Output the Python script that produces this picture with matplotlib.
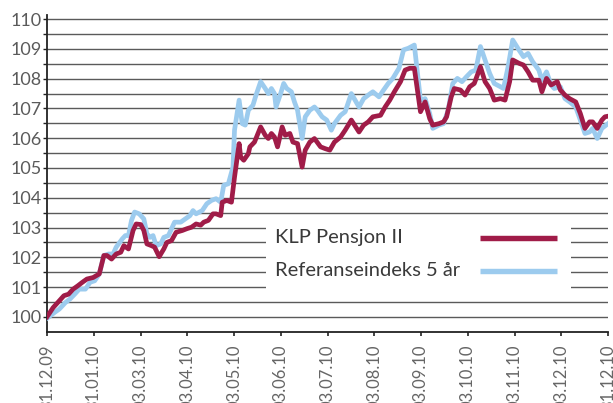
import numpy as np
import matplotlib
matplotlib.use('Agg')
import matplotlib.pyplot as plt

plt.rcParams['font.family'] = ['Lato', 'DejaVu Sans']

# dager etter 31.12.09 og indeksverdi
klp_dager = [0, 4, 7, 11, 14, 17, 20, 23, 26, 30, 34, 37, 39, 42, 45, 48, 50, 53, 56, 58,
             61, 63, 65, 68, 70, 73, 76, 78, 81, 84, 88, 91, 94, 97, 100, 102, 105, 108, 110, 113,
             114, 117, 120, 122, 125, 126, 128, 131, 132, 135, 139, 142, 144, 146, 148, 150, 153, 155, 158, 160,
             163, 166, 168, 171, 174, 178, 181, 184, 187, 191, 194, 198, 203, 206, 209, 212, 217, 220, 223, 226,
             230, 233, 236, 239, 243, 246, 249, 251, 255, 258, 260, 263, 265, 269, 272, 275, 278, 282, 285, 288,
             291, 295, 298, 301, 303, 307, 310, 313, 316, 320, 322, 325, 328, 332, 334, 337, 340, 344, 347, 350,
             353, 355, 358, 361, 363, 365]
klp_verdi = [100.0, 100.31, 100.48, 100.71, 100.76, 100.93, 101.04, 101.16, 101.27, 101.32, 101.44, 102.06, 102.06, 101.94, 102.11, 102.17, 102.39, 102.28, 102.9, 103.12,
             103.1, 102.9, 102.45, 102.39, 102.34, 102.02, 102.28, 102.5, 102.56, 102.84, 102.9, 102.96, 103.01, 103.12, 103.08, 103.18, 103.24, 103.46, 103.46, 103.4,
             103.85, 103.91, 103.85, 104.69, 105.82, 105.37, 105.26, 105.48, 105.71, 105.87, 106.38, 106.1, 105.99, 106.16, 106.04, 105.71, 106.38, 106.1, 106.16, 105.87,
             105.82, 105.03, 105.6, 105.87, 105.99, 105.71, 105.65, 105.6, 105.87, 106.04, 106.27, 106.61, 106.21, 106.44, 106.55, 106.72, 106.77, 107.05, 107.28, 107.56,
             107.9, 108.29, 108.35, 108.35, 106.89, 107.22, 106.66, 106.44, 106.49, 106.55, 106.72, 107.39, 107.67, 107.62, 107.45, 107.73, 107.84, 108.4, 107.9, 107.67,
             107.28, 107.33, 107.28, 107.9, 108.63, 108.52, 108.46, 108.23, 107.95, 107.95, 107.56, 108.01, 107.79, 107.9, 107.62, 107.45, 107.33, 107.22, 106.83, 106.33,
             106.55, 106.55, 106.33, 106.61, 106.72, 106.74]

ref_dager = [0, 5, 8, 12, 15, 18, 21, 25, 28, 31, 34, 37, 40, 43, 45, 49, 51, 53, 55, 57,
             60, 63, 65, 67, 69, 71, 74, 76, 79, 83, 87, 90, 93, 95, 97, 101, 104, 107, 110, 113,
             115, 118, 121, 122, 125, 127, 129, 131, 134, 136, 139, 142, 144, 146, 148, 149, 152, 154, 156, 159,
             161, 163, 166, 168, 171, 174, 176, 179, 182, 185, 187, 191, 194, 198, 203, 206, 209, 212, 216, 219,
             222, 225, 229, 232, 235, 239, 243, 246, 249, 251, 255, 258, 261, 264, 267, 270, 273, 276, 279, 282,
             285, 288, 291, 295, 297, 300, 303, 307, 310, 313, 316, 320, 322, 325, 328, 330, 334, 337, 340, 344,
             347, 350, 353, 355, 358, 361, 365]
ref_verdi = [99.95, 100.15, 100.26, 100.48, 100.6, 100.76, 100.93, 100.93, 101.16, 101.21, 101.44, 102.06, 102.11, 102.11, 102.34, 102.62, 102.73, 102.73, 103.24, 103.52,
             103.46, 103.29, 102.79, 102.67, 102.73, 102.39, 102.45, 102.67, 102.73, 103.18, 103.18, 103.29, 103.4, 103.57, 103.46, 103.57, 103.8, 103.91, 103.97, 103.85,
             104.42, 104.47, 105.03, 106.27, 107.28, 106.49, 106.44, 106.94, 107.11, 107.45, 107.9, 107.67, 107.5, 107.67, 107.5, 107.05, 107.5, 107.84, 107.67, 107.56,
             107.22, 106.94, 105.99, 106.72, 106.94, 107.05, 106.94, 106.72, 106.61, 106.27, 106.49, 106.77, 106.89, 107.5, 107.05, 107.33, 107.45, 107.56, 107.39, 107.62,
             107.84, 108.01, 108.35, 108.97, 109.02, 109.13, 107.28, 107.33, 106.83, 106.33, 106.44, 106.49, 106.94, 107.84, 108.01, 107.9, 108.07, 108.23, 108.29, 109.08,
             108.63, 108.18, 107.84, 107.73, 107.67, 108.4, 109.3, 108.97, 108.74, 108.85, 108.57, 108.29, 107.95, 108.23, 107.79, 107.67, 107.73, 107.33, 107.22, 107.05,
             106.61, 106.16, 106.21, 106.33, 105.99, 106.33, 106.49]

x_etiketter = ['31.12.09', '31.01.10', '03.03.10', '03.04.10', '03.05.10', '03.06.10', '03.07.10',
               '03.08.10', '03.09.10', '03.10.10', '03.11.10', '03.12.10', '31.12.10']
serienavn = ['KLP Pensjon II', 'Referanseindeks 5 år']

rod = '#a01c48'
bla = '#9ccbee'

W, H = 613, 403
fig = plt.figure(figsize=(W / 100, H / 100), dpi=100)
ax = fig.add_axes([47 / W, 1 - 331.7 / H, 561 / W, (331.7 - 15) / H])

# rutenett hver halve prosent
ax.hlines(np.arange(100, 110.01, 0.5), 0, 1, transform=ax.get_yaxis_transform(),
          colors='#5a5a5a', linewidth=1.0, zorder=1)

ax.plot(ref_dager, ref_verdi, color=bla, linewidth=3.4, solid_joinstyle='round', zorder=3)
ax.plot(klp_dager, klp_verdi, color=rod, linewidth=3.4, solid_joinstyle='round', zorder=4)

ax.set_xlim(0, 365)
ax.set_ylim(99.5, 110.14)

ax.set_xticks(np.linspace(0, 365, 13))
ax.set_xticklabels(x_etiketter, rotation=90, va='top', ha='center')
ax.set_yticks(np.arange(100, 111, 1))
ax.set_yticks(np.arange(100.5, 110, 1), minor=True)

ax.tick_params(axis='x', length=3, width=1.2, color='#222222', pad=6, labelsize=12, labelcolor='#666666')
ax.tick_params(axis='y', which='both', length=3, width=1.0, color='#222222', pad=1, labelsize=13, labelcolor='#5a5a5a')

for s in ['top', 'right']:
    ax.spines[s].set_visible(False)
for s in ['left', 'bottom']:
    ax.spines[s].set_color('#222222')
    ax.spines[s].set_linewidth(1.3)

# forklaring (hvit boks over rutenettet)
ft = fig.transFigure
boks = plt.Rectangle((266 / W, 1 - 294 / H), (571 - 266) / W, (294 - 221) / H,
                     transform=ft, facecolor='white', edgecolor='none', zorder=2)
ax.add_patch(boks)
for i, (navn, farge) in enumerate(zip(serienavn, [rod, bla])):
    yy = 1 - (237.7 + 32.8 * i) / H
    ax.text(275 / W, yy, navn, transform=ft, fontsize=14.5,
            color='#3a3a3a', va='center', ha='left', zorder=5)
    ax.plot([480 / W, 557 / W], [yy, yy], transform=ft,
            color=farge, linewidth=3.9, solid_capstyle='butt', zorder=5)

plt.savefig('out.png', dpi=100)
